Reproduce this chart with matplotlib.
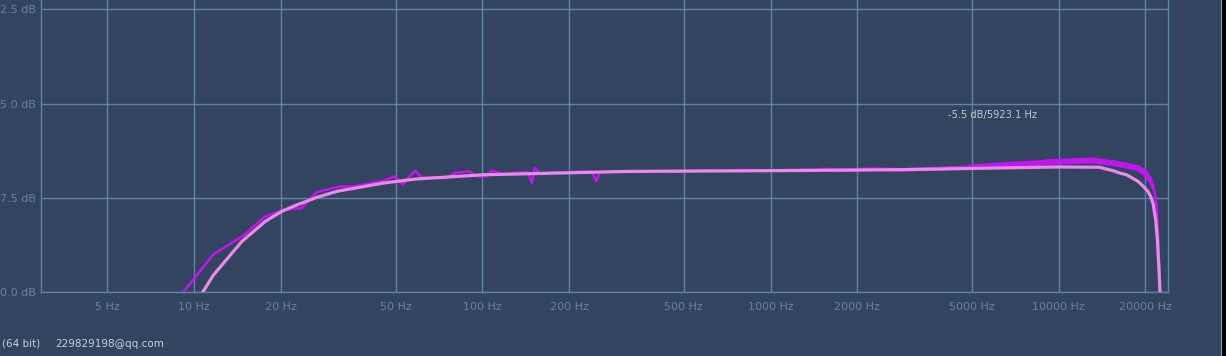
import matplotlib
matplotlib.use("Agg")
import matplotlib.pyplot as plt
from matplotlib.patches import Rectangle
from matplotlib.lines import Line2D

# ---- data ----
tick_freqs = [5, 10, 20, 50, 100, 200, 500, 1000, 2000, 5000, 10000, 20000]
tick_freq_labels = ["5 Hz", "10 Hz", "20 Hz", "50 Hz", "100 Hz", "200 Hz", "500 Hz",
                    "1000 Hz", "2000 Hz", "5000 Hz", "10000 Hz", "20000 Hz"]
db_ticks = [-10.0, -7.5, -5.0, -2.5]
db_tick_labels = ["0.0 dB", "7.5 dB", "5.0 dB", "2.5 dB"]

# smooth (pink) response
smooth_freq = [10.71, 11.66, 14.63, 17.62, 20.13, 22.70, 26.63, 31.24, 45.33, 59.18,
               100.7, 325, 1077, 2809, 9840, 13880, 14560, 15430, 16280, 17170,
               17920, 18840, 19560, 20400, 20860, 21250, 21700, 22000, 22280, 22460]
smooth_db = [-10.0, -9.55, -8.66, -8.13, -7.86, -7.69, -7.49, -7.33, -7.11, -7.00,
             -6.89, -6.80, -6.78, -6.755, -6.683, -6.690, -6.735, -6.78, -6.843, -6.888,
             -6.968, -7.066, -7.18, -7.332, -7.473, -7.65, -8.085, -8.617, -9.415, -10.0]

# measured (purple) response
meas_freq = [9.18, 11.66, 14.82, 17.62, 20.39, 23.62, 26.63, 32.07, 35.67, 45.33,
             49.76, 52.9, 58.4, 61.6, 75.2, 80.4, 90.6, 94.3, 103.5, 107.7,
             118, 130, 143.9, 148.6, 152.2, 158.5, 175, 193.5, 215, 240,
             248.8, 255.9, 300, 352, 420, 470, 568.6, 650, 800, 950,
             1264, 1500, 1800, 2300, 2809, 3600, 4912, 6243, 8593, 9307,
             13120, 15400, 17220, 18800, 19880, 20690, 21250, 21650, 21930, 22140,
             22360, 22490]
meas_db = [-10.0, -9.0, -8.50, -8.00, -7.82, -7.77, -7.35, -7.20, -7.20, -7.05,
           -6.93, -7.15, -6.78, -6.96, -6.98, -6.84, -6.80, -6.93, -6.93, -6.78,
           -6.87, -6.84, -6.82, -7.11, -6.71, -6.86, -6.82, -6.835, -6.80, -6.81,
           -7.05, -6.81, -6.80, -6.82, -6.79, -6.81, -6.77, -6.79, -6.76, -6.78,
           -6.755, -6.75, -6.77, -6.74, -6.76, -6.73, -6.694, -6.641, -6.577, -6.55,
           -6.51, -6.58, -6.649, -6.71, -6.83, -7.02, -7.20, -7.465, -7.82, -8.62,
           -9.42, -10.0]

# ---- styling ----
BG = "#334460"
GRID = "#5b86a6"
TICK_TXT = "#6285a3"
PURPLE = "#c414f2"
PINK = "#e88be6"

fig = plt.figure(figsize=(12.26, 3.56), dpi=100)
fig.patch.set_facecolor(BG)
W, H = 1226, 356
ax = fig.add_axes([41 / W, (356 - 292) / H, (1168.3 - 41) / W, 292 / H])
ax.set_facecolor(BG)

ax.set_xscale("log")
ax.set_xlim(2.94, 24000)
ax.set_ylim(-10.0, -2.253)

ax.set_xticks(tick_freqs)
ax.set_xticklabels(tick_freq_labels)
ax.xaxis.set_minor_locator(matplotlib.ticker.NullLocator())
ax.set_yticks(db_ticks)
ax.set_yticklabels(db_tick_labels)
ax.tick_params(axis="x", length=0, pad=7.5, labelsize=8, labelcolor=TICK_TXT)
ax.tick_params(axis="y", length=0, pad=3.6, labelsize=8, labelcolor=TICK_TXT)
ax.grid(True, color=GRID, linewidth=1.0)
ax.set_axisbelow(True)
ax.spines["top"].set_visible(False)
for side in ["left", "right", "bottom"]:
    ax.spines[side].set_color(GRID)
    ax.spines[side].set_linewidth(1.0)

# high-frequency part of measured curve drawn thicker (dense noise band)
mid = [i for i, f in enumerate(meas_freq) if 1500 <= f <= 21300]
ax.plot([meas_freq[i] for i in mid], [meas_db[i] for i in mid], color=PURPLE,
        linewidth=2.8, solid_capstyle="round", solid_joinstyle="round", zorder=3)
hi = [i for i, f in enumerate(meas_freq) if 4900 <= f <= 21000]
ax.plot([meas_freq[i] for i in hi], [meas_db[i] for i in hi], color=PURPLE,
        linewidth=4.2, solid_capstyle="round", solid_joinstyle="round", zorder=3)
ax.plot(meas_freq, meas_db, color=PURPLE, linewidth=1.8, zorder=3)
ax.plot(smooth_freq, smooth_db, color=PINK, linewidth=2.3, zorder=4)

fig.text(948 / W, 1 - 115 / H, "-5.5 dB/5923.1 Hz", color="#c3cad2",
         fontsize=7.1, va="center", ha="left")

fig.text(2 / W, 1 - 344 / H, "(64 bit)", color="#c8d0da", fontsize=7.5,
         va="center", ha="left")
fig.text(55 / W, 1 - 344 / H, "229829198@qq.com", color="#c8d0da", fontsize=7.5,
         va="center", ha="left")

# right window edge
fig.add_artist(Rectangle((1221.5 / W, 0), 4.5 / W, 1, transform=fig.transFigure,
                         facecolor="black", edgecolor="none"))
fig.add_artist(Line2D([1220.5 / W, 1220.5 / W], [0, 1], transform=fig.transFigure,
                      color="#8a96a4", linewidth=0.8))

fig.savefig("out.png", dpi=100, facecolor=BG)
